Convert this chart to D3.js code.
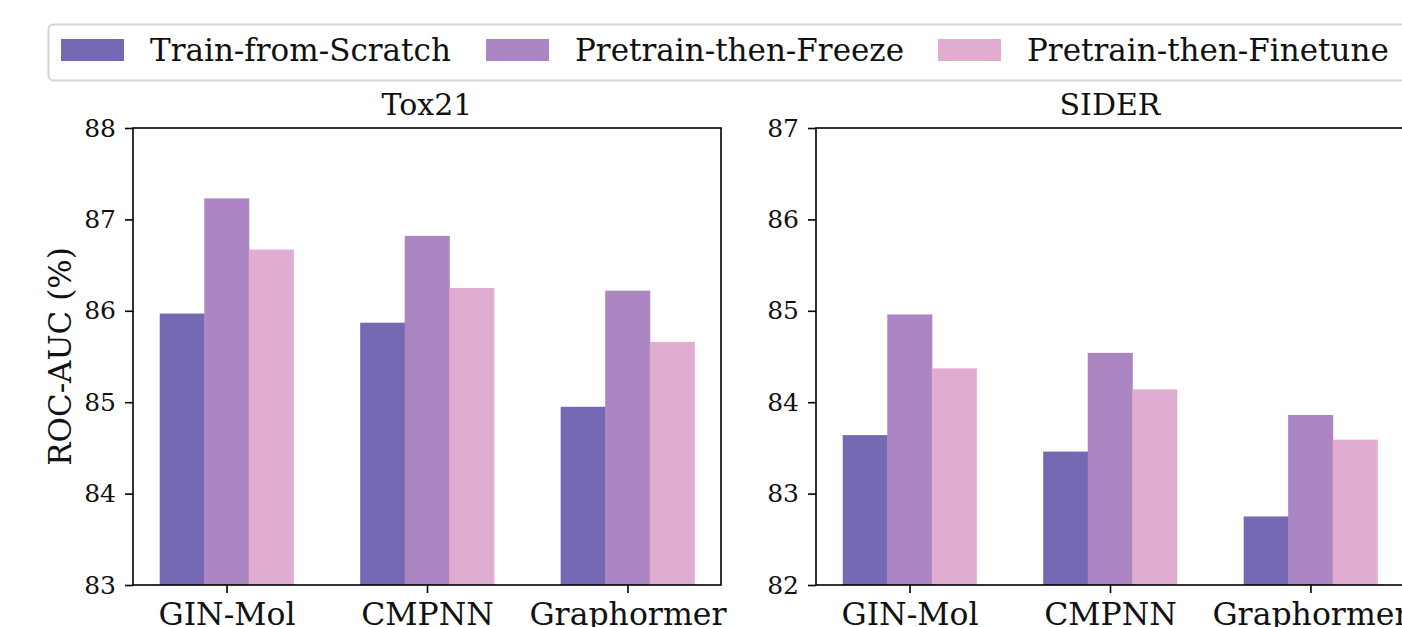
<!DOCTYPE html>
<html>
<head>
<meta charset="utf-8">
<script src="https://cdn.jsdelivr.net/npm/d3@7"></script>
<style>
  body { margin: 0; background: #fff; overflow: hidden; }
  svg { display: block; font-family: "DejaVu Serif", serif; }
</style>
</head>
<body>
<svg id="chart" width="1402" height="627"></svg>
<script>
// data
var models = ["GIN-Mol", "CMPNN", "Graphormer"];
var methods = ["Train-from-Scratch", "Pretrain-then-Freeze", "Pretrain-then-Finetune"];
var colors = ["#7569b3", "#ac86c3", "#e0acd0"];

var tox21Scratch = [85.97, 85.87, 84.95];
var tox21Freeze = [87.23, 86.82, 86.22];
var tox21Finetune = [86.67, 86.25, 85.66];

var siderScratch = [83.64, 83.46, 82.75];
var siderFreeze = [84.96, 84.54, 83.86];
var siderFinetune = [84.37, 84.14, 83.59];

var tox21Ticks = [83, 84, 85, 86, 87, 88];
var siderTicks = [82, 83, 84, 85, 86, 87];

var panels = [
    { title: "Tox21", left: 133, series: [tox21Scratch, tox21Freeze, tox21Finetune], ticks: tox21Ticks },
    { title: "SIDER", left: 816, series: [siderScratch, siderFreeze, siderFinetune], ticks: siderTicks }
];

var svg = d3.select("#chart");
var plotTop = 128, plotH = 457, plotW = 588;
var barW = 0.2222;
var lo = -1.5 * barW, hi = models.length - 1 + 1.5 * barW;
var pad = (hi - lo) * 0.05;

panels.forEach(function(p, pi){
    var g = svg.append("g").attr("transform", "translate(" + p.left + "," + plotTop + ")");

    var x = d3.scaleLinear().domain([lo - pad, hi + pad]).range([0, plotW]);
    var y = d3.scaleLinear().domain([p.ticks[0], p.ticks[p.ticks.length - 1]]).range([plotH, 0]);

    p.series.forEach(function(vals, si){
        g.selectAll(".bar" + si)
            .data(vals)
            .enter().append("rect")
            .attr("class", "bar" + si)
            .attr("x", function(d, i){ return x(i + (si - 1.5) * barW); })
            .attr("width", x(barW) - x(0) + 0.5)
            .attr("y", function(d){ return y(d); })
            .attr("height", function(d){ return plotH - y(d); })
            .attr("fill", colors[si]);
    });

    var yAxis = g.append("g")
        .call(d3.axisLeft(y).tickValues(p.ticks).tickFormat(d3.format("d")).tickSize(8).tickPadding(9));
    var xAxis = g.append("g").attr("transform", "translate(0," + plotH + ")")
        .call(d3.axisBottom(x).tickValues([0, 1, 2]).tickFormat(function(d){ return models[d]; }).tickSize(8).tickPadding(10));

    yAxis.selectAll("text").attr("font-size", 25).attr("font-family", "DejaVu Serif").attr("fill", "#111");
    xAxis.selectAll("text").attr("font-size", 31.5).attr("font-family", "DejaVu Serif").attr("fill", "#111");
    g.selectAll(".domain").remove();
    g.selectAll(".tick line").attr("stroke", "#000").attr("stroke-width", 1.6);

    // frame
    g.append("rect").attr("width", plotW).attr("height", plotH)
        .attr("fill", "none").attr("stroke", "#000").attr("stroke-width", 1.6);

    g.append("text")
        .attr("x", plotW / 2).attr("y", -13)
        .attr("text-anchor", "middle")
        .attr("font-size", 30).attr("fill", "#111")
        .text(p.title);

    if(pi == 0){
        g.append("text")
            .attr("transform", "translate(" + (-62) + "," + (plotH / 2) + ") rotate(-90)")
            .attr("text-anchor", "middle")
            .attr("font-size", 31).attr("fill", "#111")
            .text("ROC-AUC (%)");
    }
});

// legend
var leg = svg.append("g");
leg.append("rect")
    .attr("x", 48.5).attr("y", 24.5).attr("width", 1400).attr("height", 56).attr("rx", 5)
    .attr("fill", "#fff").attr("stroke", "#d4d4d4").attr("stroke-width", 2);

var legX = [61, 486, 938];
methods.forEach(function(m, i){
    leg.append("rect")
        .attr("x", legX[i]).attr("y", 39).attr("width", 63).attr("height", 22)
        .attr("fill", colors[i]);
    leg.append("text")
        .attr("x", legX[i] + 89).attr("y", 61)
        .attr("font-size", 31).attr("fill", "#111")
        .text(m);
});
</script>
</body>
</html>
